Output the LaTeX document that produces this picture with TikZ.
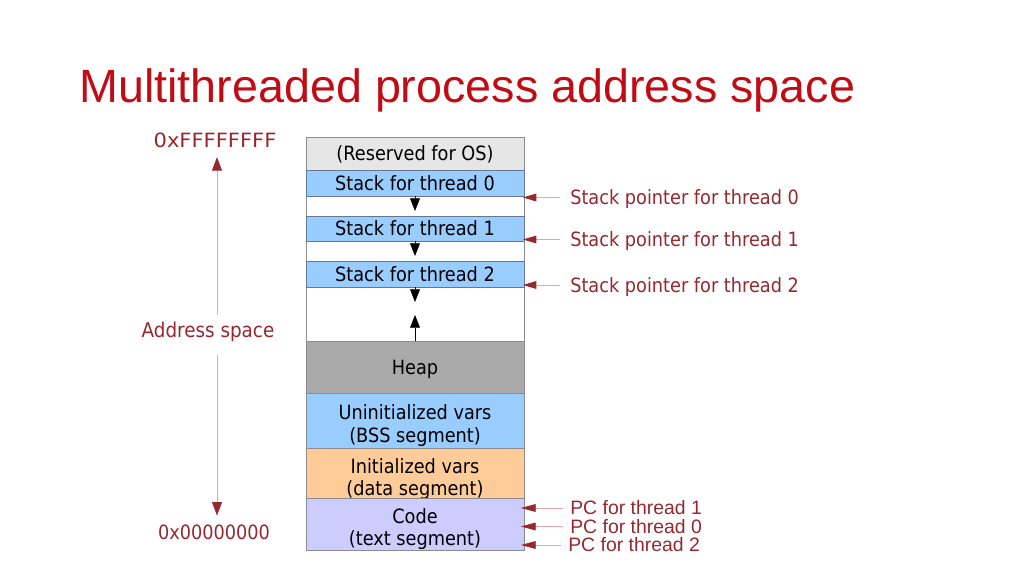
\documentclass[tikz,border=0pt]{standalone}
\usepackage{fontspec}
\setmainfont{DejaVu Sans}[FakeStretch=0.9]
\newfontfamily\hexfont{DejaVu Sans}[FakeStretch=1.07]
\newfontfamily\arialfont{Liberation Sans}
\usetikzlibrary{arrows.meta}
\def\px{0.025cm}
\definecolor{titlered}{RGB}{192,12,20}
\definecolor{labelred}{RGB}{150,40,48}
\definecolor{linepink}{RGB}{225,165,175}
\definecolor{stackblue}{RGB}{153,204,255}
\definecolor{heapgray}{RGB}{170,170,170}
\definecolor{osgray}{RGB}{230,230,230}
\definecolor{datapeach}{RGB}{255,204,153}
\definecolor{codelilac}{RGB}{204,204,255}
\definecolor{edgegray}{RGB}{140,140,140}
\definecolor{stackedge}{RGB}{100,120,150}
\tikzset{
  seg/.style={draw=edgegray, line width=0.6pt, minimum width=218*\px, inner sep=0pt, align=center,
    font=\fontsize{14}{16}\selectfont,
    execute at begin node={\rule{0pt}{13.5pt}}, execute at end node={\rule[-3.5pt]{0pt}{3.5pt}}},
  twoline/.style={execute at begin node={\rule{0pt}{34pt}}},
  stackseg/.style={seg, fill=stackblue, draw=stackedge},
  growarrow/.style={-{Triangle[length=9pt,width=7pt]}, black, line width=0.4pt},
  ptr/.style={linepink, line width=0.6pt, -{Triangle[length=9.5pt,width=5.5pt,color=labelred]}},
  lbl/.style={text=labelred, inner sep=0pt, text height=10pt, text depth=0pt, font=\fontsize{14}{16}\selectfont},
  pclbl/.style={text=labelred, font=\arialfont\fontsize{13.8}{16}\selectfont, inner sep=0pt, anchor=west,
    text height=9.9pt, text depth=0pt},
}
\begin{document}
\begin{tikzpicture}[x=\px, y=-\px]
  \useasboundingbox (0,0) rectangle (1024,576);

  \node[anchor=base west, inner sep=0pt, text=titlered, font=\arialfont\fontsize{33.2}{40}\selectfont] (title) at (79,103) {Multithreaded process address space};

  % memory layout
  \node[seg, fill=white, minimum height=412*\px] (mem) at (415,343) {};
  \node[seg, fill=osgray, minimum height=33*\px] (rsvd) at (415,153.5) {(Reserved for OS)};
  \node[stackseg, minimum height=26*\px] (stack0) at (415,183) {Stack for thread 0};
  \node[stackseg, minimum height=25*\px] (stack1) at (415,228.5) {Stack for thread 1};
  \node[stackseg, minimum height=26*\px] (stack2) at (415,274) {Stack for thread 2};
  \node[seg, fill=heapgray, minimum height=52*\px] (heap) at (415,367) {Heap};
  \node[seg, twoline, fill=stackblue, minimum height=56*\px] (bss) at (415,421) {Uninitialized vars\\(BSS segment)};
  \node[seg, twoline, fill=datapeach, minimum height=51*\px] (data) at (415,474.5) {Initialized vars\\(data segment)};
  \node[seg, twoline, fill=codelilac, minimum height=49*\px] (code) at (415,524.5) {Code\\(text segment)};

  \coordinate (d0) at (415,211);
  \coordinate (d1) at (415,256);
  \coordinate (d2) at (415,302);
  \coordinate (up) at (415,315);
  \draw[growarrow] (stack0.south) -- (d0);
  \draw[growarrow] (stack1.south) -- (d1);
  \draw[growarrow] (stack2.south) -- (d2);
  \draw[growarrow] (heap.north) -- (up);

  % address range
  \node[lbl, font=\hexfont\fontsize{14}{16}\selectfont] (hi) at (215,140) {0xFFFFFFFF};
  \node[lbl, font=\fontsize{14.5}{16}\selectfont] (as) at (208,330.5) {Address space};
  \node[lbl] (lo) at (214,532) {0x00000000};
  \coordinate (axis) at (217,0);
  \draw[ptr, shorten >=7pt, shorten <=6pt, -{Triangle[length=9.5pt,width=7pt,color=labelred]}] (as.north -| axis) -- (hi.south -| axis);
  \draw[ptr, shorten >=6.5pt, shorten <=12pt, -{Triangle[length=9.5pt,width=7pt,color=labelred]}] (as.south -| axis) -- (lo.north -| axis);

  % stack pointers
  \node[lbl, anchor=west] (sp0) at (570,197.5) {Stack pointer for thread 0};
  \node[lbl, anchor=west] (sp1) at (570,239.5) {Stack pointer for thread 1};
  \node[lbl, anchor=west] (sp2) at (570,285) {Stack pointer for thread 2};
  \foreach \s in {sp0,sp1,sp2}
    \draw[ptr, shorten <=7pt, shorten >=-1pt] (\s.west) -- (\s.west -| mem.east);

  % program counters
  \node[pclbl] (pc1) at (570,508) {PC for thread 1};
  \node[pclbl] (pc0) at (570,526.5) {PC for thread 0};
  \node[pclbl] (pc2) at (568,545) {PC for thread 2};
  \foreach \p in {pc1,pc0,pc2}
    \draw[ptr, shorten <=5pt, shorten >=-2.5pt, -{Triangle[length=10.5pt,width=5.5pt,color=labelred]}] (\p.west) -- (\p.west -| code.east);
\end{tikzpicture}
\end{document}
